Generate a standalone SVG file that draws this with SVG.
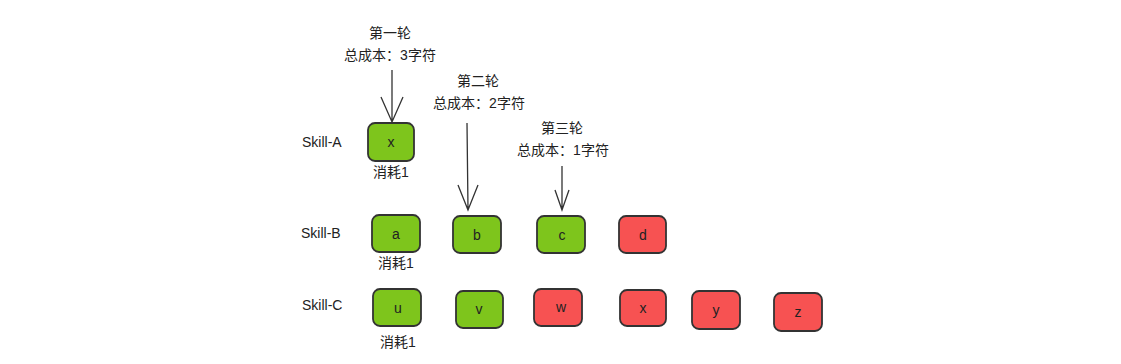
<svg xmlns="http://www.w3.org/2000/svg" width="1121" height="364" viewBox="0 0 1121 364">
<style>
text{font-family:"Liberation Sans","Noto Sans CJK SC",sans-serif;font-size:14px;fill:#222;text-anchor:middle;dominant-baseline:central}
.lbl{text-anchor:start}
.g{fill:#7ec51c;stroke:#333;stroke-width:1.8}
.r{fill:#f75252;stroke:#333;stroke-width:1.8}
.ln{fill:none;stroke:#333;stroke-width:1.3}
</style>
<rect width="1121" height="364" fill="#fff"/>
<g id="labels">
<text class="lbl" x="302" y="142">Skill-A</text>
<text class="lbl" x="301" y="233">Skill-B</text>
<text class="lbl" x="302" y="305">Skill-C</text>
</g>
<g id="connectors">
<path class="ln" d="M392 70 L392 122 M381 97 L392 122 L403 97"/>
<path class="ln" d="M467 123 L468 210 M458 185 L468 210 L478 185"/>
<path class="ln" d="M562 166 L562 210 M555 190 L562 210 L569 190"/>
</g>
<g id="round1"><text x="390" y="33">第一轮</text><text x="390" y="55">总成本：3字符</text></g>
<g id="round2"><text x="478" y="81">第二轮</text><text x="479" y="103">总成本：2字符</text></g>
<g id="round3"><text x="562" y="128">第三轮</text><text x="563" y="150">总成本：1字符</text></g>
<g id="nA_x"><rect class="g" x="368" y="123" width="46" height="38" rx="7"/><text x="391" y="142">x</text><text x="391" y="172">消耗1</text></g>
<g id="nB_a"><rect class="g" x="372" y="215" width="48" height="37" rx="7"/><text x="396" y="234">a</text><text x="396" y="263">消耗1</text></g>
<g id="nB_b"><rect class="g" x="453" y="216" width="48" height="37" rx="7"/><text x="477" y="235">b</text></g>
<g id="nB_c"><rect class="g" x="537" y="216" width="48" height="37" rx="7"/><text x="562" y="235">c</text></g>
<g id="nB_d"><rect class="r" x="619" y="216" width="47" height="37" rx="7"/><text x="643" y="235">d</text></g>
<g id="nC_u"><rect class="g" x="373" y="289" width="48" height="37" rx="7"/><text x="398" y="308">u</text><text x="398" y="342">消耗1</text></g>
<g id="nC_v"><rect class="g" x="456" y="291" width="47" height="37" rx="7"/><text x="479" y="309">v</text></g>
<g id="nC_w"><rect class="r" x="534" y="289" width="48" height="37" rx="7"/><text x="561" y="307">w</text></g>
<g id="nC_x"><rect class="r" x="620" y="290" width="46" height="36" rx="7"/><text x="643" y="308">x</text></g>
<g id="nC_y"><rect class="r" x="692" y="291" width="48" height="38" rx="7"/><text x="716" y="310">y</text></g>
<g id="nC_z"><rect class="r" x="774" y="293" width="48" height="38" rx="7"/><text x="798" y="312">z</text></g>
</svg>
